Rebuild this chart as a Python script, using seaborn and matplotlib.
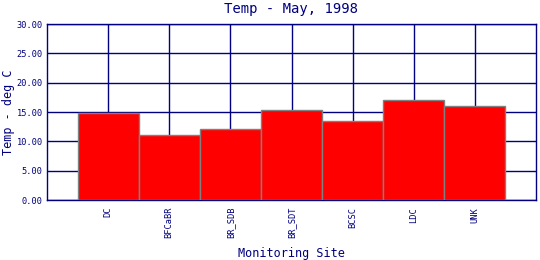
import matplotlib
matplotlib.use("Agg")
import matplotlib.pyplot as plt
import seaborn as sns
import pandas as pd

sites = ["DC", "BFCaBR", "BR_SDB", "BR_SDT", "BCSC", "LDC", "UNK"]
temps = [14.9, 11.1, 12.1, 15.3, 13.4, 17.0, 16.0]
yticks = [0, 5, 10, 15, 20, 25, 30]

navy = "#000080"
sns.set_theme(style="white")
plt.rcParams["font.family"] = ["DejaVu Sans Mono", "DejaVu Sans"]

df = pd.DataFrame({"site": sites, "temp": temps})
fig = plt.figure(figsize=(5.4, 2.6), dpi=100)
ax = fig.add_axes([47/540, 60/260, 489/540, 176/260])
sns.barplot(data=df, x="site", y="temp", color="red", width=1.0,
            edgecolor="#808080", linewidth=1.0, saturation=1, ax=ax, zorder=3)
ax.set_xlim(-1, 7)
ax.set_ylim(0, 30)
ax.set_yticks(yticks)
ax.set_yticklabels([f"{v:.2f}" for v in yticks], fontsize=6.2, color=navy)
ax.set_xticks(range(len(sites)))
ax.set_xticklabels(sites, rotation=90, fontsize=6.2, color=navy)
ax.grid(True, color=navy, linewidth=1.0, zorder=0)
ax.set_axisbelow(True)
for s in ax.spines.values():
    s.set_color(navy)
    s.set_linewidth(1.0)
ax.tick_params(axis="x", length=0, pad=5)
ax.tick_params(axis="y", length=0, pad=3)
ax.set_xlabel("")
ax.set_ylabel("")
fig.text(291/540, 1 - 254/260, "Monitoring Site", fontsize=8.5, color=navy,
         ha="center", va="center")
fig.text(9/540, 1 - 112/260, "Temp - deg C", fontsize=8.5, color=navy,
         ha="center", va="center", rotation=90)
fig.text(291/540, 1 - 9/260, "Temp - May, 1998", fontsize=10, color=navy,
         ha="center", va="center")
fig.savefig("out.png", dpi=100)
